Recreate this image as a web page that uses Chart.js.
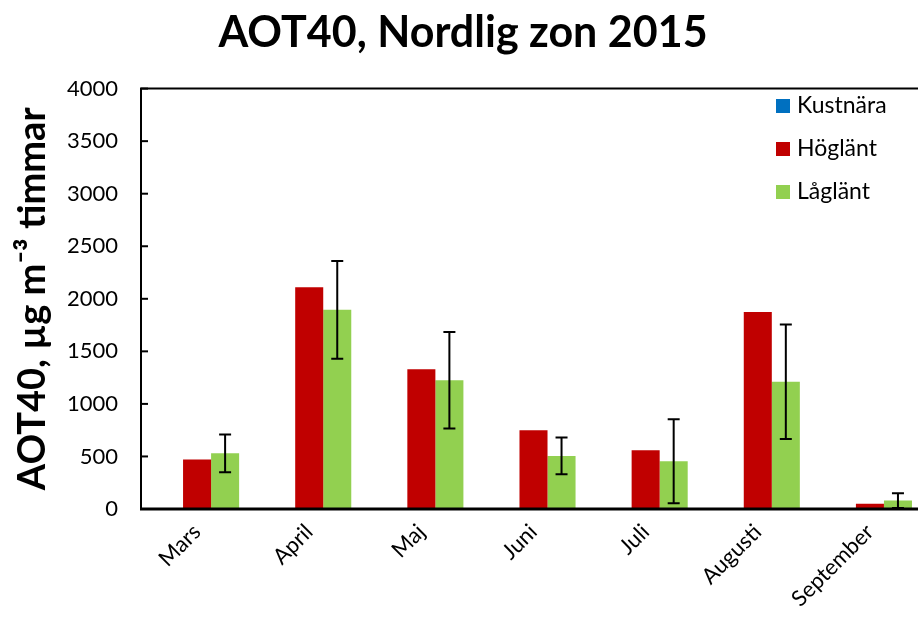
<!DOCTYPE html>
<html>
<head>
<meta charset="utf-8">
<script src="https://cdn.jsdelivr.net/npm/chart.js@4.4.0/dist/chart.umd.min.js"></script>
<style>
  html, body { margin: 0; padding: 0; overflow: hidden; background: #fff; }
</style>
</head>
<body>
<canvas id="aotChart" width="926" height="628"></canvas>
<script>
// data
const months = ['Mars', 'April', 'Maj', 'Juni', 'Juli', 'Augusti', 'September'];
const kustnara = [null, null, null, null, null, null, null];
const hoglant = [470, 2110, 1330, 750, 560, 1875, 50];
const laglant = [530, 1895, 1225, 505, 455, 1210, 80];
const laglantErr = [180, 465, 460, 175, 400, 545, 70];
const seriesNames = ['Kustnära', 'Höglänt', 'Låglänt'];
const seriesColors = ['#0070C0', '#C00000', '#92D050'];

const FONT = 'Lato, "Open Sans", sans-serif';

// error bars on Låglänt
const errorBars = {
  id: 'errorBars',
  afterDatasetsDraw(chart) {
    const ctx = chart.ctx;
    const y = chart.scales.y;
    const meta = chart.getDatasetMeta(2);
    ctx.save();
    ctx.strokeStyle = '#000';
    ctx.lineWidth = 2;
    meta.data.forEach((bar, i) => {
      const v = laglant[i];
      const e = laglantErr[i];
      const top = y.getPixelForValue(v + e);
      const bot = y.getPixelForValue(Math.max(v - e, 0));
      ctx.beginPath();
      ctx.moveTo(bar.x, top);
      ctx.lineTo(bar.x, bot);
      ctx.moveTo(bar.x - 6, top);
      ctx.lineTo(bar.x + 6, top);
      ctx.moveTo(bar.x - 6, bot);
      ctx.lineTo(bar.x + 6, bot);
      ctx.stroke();
    });
    ctx.restore();
  }
};

// plot frame, inner ticks and the legend inside the plot
const frame = {
  id: 'frame',
  afterDraw(chart) {
    const ctx = chart.ctx;
    const a = chart.chartArea;
    const y = chart.scales.y;
    ctx.save();
    ctx.strokeStyle = '#000';
    ctx.lineWidth = 2;
    ctx.beginPath();
    ctx.moveTo(a.left, a.bottom);
    ctx.lineTo(a.left, a.top);
    ctx.lineTo(a.right, a.top);
    ctx.lineTo(a.right, a.bottom);
    ctx.stroke();
    y.ticks.forEach((t) => {
      const py = y.getPixelForValue(t.value);
      ctx.beginPath();
      ctx.moveTo(a.left, py);
      ctx.lineTo(a.left + 7, py);
      ctx.stroke();
    });
    ctx.lineWidth = 3;
    ctx.beginPath();
    ctx.moveTo(a.left - 1, a.bottom);
    ctx.lineTo(a.right, a.bottom);
    ctx.stroke();

    ctx.font = '23px ' + FONT;
    ctx.textBaseline = 'middle';
    seriesNames.forEach((name, i) => {
      const ly = 106 + i * 43;
      ctx.fillStyle = seriesColors[i];
      ctx.fillRect(776, ly - 7, 14, 14);
      ctx.fillStyle = '#000';
      ctx.fillText(name, 797, ly);
    });
    ctx.restore();
  }
};

new Chart(document.getElementById('aotChart'), {
  type: 'bar',
  data: {
    labels: months,
    datasets: [
      { label: seriesNames[0], data: kustnara, backgroundColor: seriesColors[0] },
      { label: seriesNames[1], data: hoglant, backgroundColor: seriesColors[1] },
      { label: seriesNames[2], data: laglant, backgroundColor: seriesColors[2] },
    ],
  },
  options: {
    responsive: false,
    animation: false,
    layout: { padding: 0 },
    categoryPercentage: 0.75,
    barPercentage: 1,
    plugins: {
      legend: { display: false },
      tooltip: { enabled: false },
      title: {
        display: true,
        text: 'AOT40, Nordlig zon 2015',
        color: '#000',
        font: { family: FONT, size: 43, weight: 'bold' },
        padding: { top: 7, bottom: 30 },
      },
    },
    scales: {
      x: {
        grid: { display: false, drawTicks: false },
        border: { display: false },
        ticks: {
          color: '#000',
          font: { family: FONT, size: 22 },
          minRotation: 45,
          maxRotation: 45,
          padding: 10,
        },
        afterFit(scale) { scale.height = 119; },
      },
      y: {
        min: 0,
        max: 4000,
        grid: { display: false, drawTicks: false },
        border: { display: false },
        ticks: {
          stepSize: 500,
          color: '#000',
          font: { family: FONT, size: 22 },
          padding: 23,
          callback: (v) => String(v),
        },
        title: {
          display: true,
          text: 'AOT40, µg m⁻³ timmar',
          color: '#000',
          font: { family: FONT, size: 38, weight: 'bold' },
          padding: { top: 10, bottom: 0 },
        },
        afterFit(scale) { scale.width = 141; },
      },
    },
  },
  plugins: [errorBars, frame],
});
</script>
</body>
</html>
